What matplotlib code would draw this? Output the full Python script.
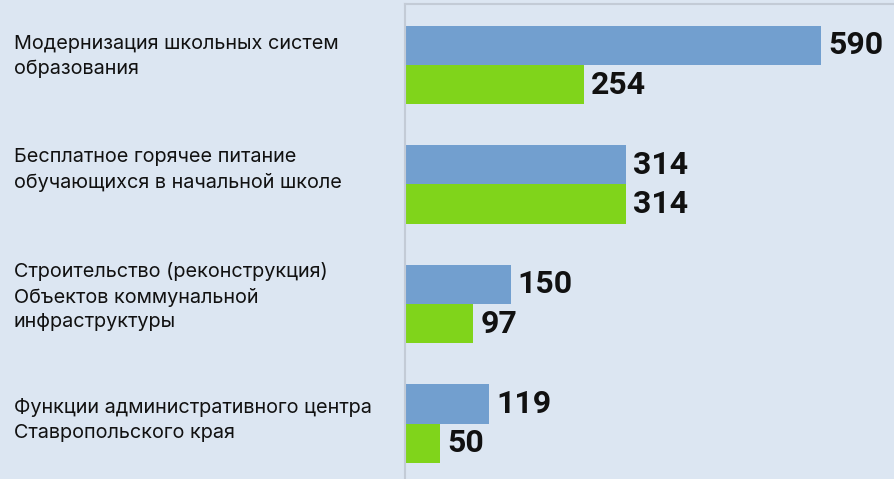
import matplotlib.pyplot as plt
import numpy as np

# data
categories = [
    "Модернизация школьных систем\nобразования",
    "Бесплатное горячее питание\nобучающихся в начальной школе",
    "Строительство (реконструкция)\nОбъектов коммунальной\nинфраструктуры",
    "Функции административного центра\nСтавропольского края",
]
blue_vals = [590, 314, 150, 119]
green_vals = [254, 314, 97, 50]

bg = "#dce6f2"
blue = "#729fcf"
green = "#80d41b"

fig = plt.figure(figsize=(8.95, 4.79), dpi=100, facecolor=bg)
ax = fig.add_axes([405 / 895, 0, 490 / 895, 475 / 479], facecolor=bg)

y = np.arange(len(categories))
h = 0.33
ax.barh(y - h / 2, blue_vals, height=h, color=blue)
ax.barh(y + h / 2, green_vals, height=h, color=green)

ax.set_xlim(0, 695)
ax.set_ylim(3.464, -0.510)

for i in range(len(categories)):
    ax.text(blue_vals[i] + 10, y[i] - h / 2, str(blue_vals[i]), va="center", ha="left",
            fontsize=23, fontweight="bold", family="Roboto", color="#111111")
    ax.text(green_vals[i] + 10, y[i] + h / 2, str(green_vals[i]), va="center", ha="left",
            fontsize=23, fontweight="bold", family="Roboto", color="#111111")

# category labels on the left, in figure pixel x
label_offsets = [-0.07, -0.12, -0.06, -0.03]
for i, c in enumerate(categories):
    ax.text(-391 / 0.705, y[i] + label_offsets[i], c, va="center", ha="left",
            fontsize=14.3, family="Inter", color="#111111", linespacing=1.45,
            clip_on=False)

ax.set_xticks([])
ax.set_yticks([])
for s in ["right", "bottom"]:
    ax.spines[s].set_visible(False)
for s in ["left", "top"]:
    ax.spines[s].set_color("#c3cbd6")
    ax.spines[s].set_linewidth(1.5)

fig.savefig("out.png", dpi=100, facecolor=bg)
